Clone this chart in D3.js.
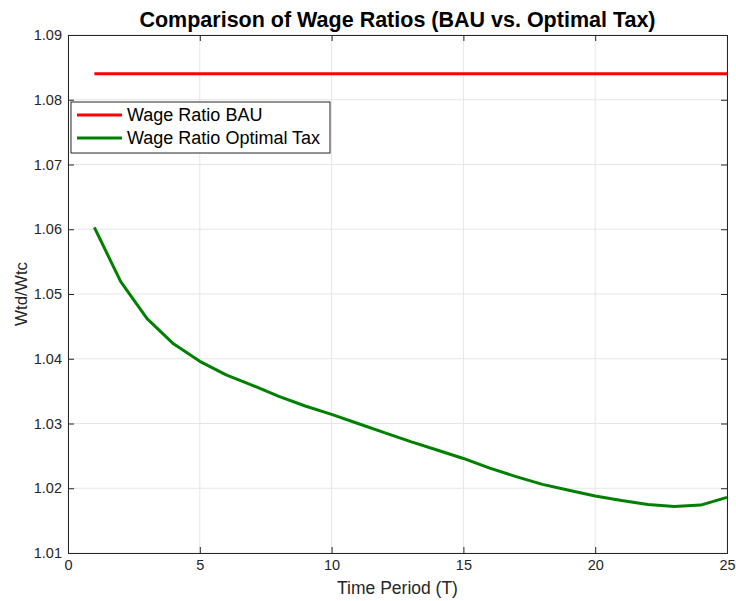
<!DOCTYPE html>
<html>
<head>
<meta charset="utf-8">
<script src="https://cdn.jsdelivr.net/npm/d3@7"></script>
<style>
  body { margin: 0; background: #fff; }
  svg { font-family: "Liberation Sans", Arial, Helvetica, sans-serif; }
</style>
</head>
<body>
<svg id="chart"></svg>
<script>
const svgWidth = 736;
const svgHeight = 601;
const margin = { top: 35, right: 9, bottom: 48, left: 68 };

// data
const periods = d3.range(1, 26);
const wageRatioBAU = [1.084, 1.084, 1.084, 1.084, 1.084, 1.084, 1.084, 1.084, 1.084, 1.084,
    1.084, 1.084, 1.084, 1.084, 1.084, 1.084, 1.084, 1.084, 1.084, 1.084,
    1.084, 1.084, 1.084, 1.084, 1.084];
const wageRatioTax = [1.0603, 1.0519, 1.0462, 1.0423, 1.0396, 1.0375, 1.0359, 1.0342, 1.0327, 1.0314,
    1.0300, 1.0286, 1.0272, 1.0259, 1.0246, 1.0231, 1.0218, 1.0206, 1.0197, 1.0188,
    1.0181, 1.0175, 1.0172, 1.0174, 1.0186];
const xTicks = [0, 5, 10, 15, 20, 25];
const yTicks = [1.01, 1.02, 1.03, 1.04, 1.05, 1.06, 1.07, 1.08, 1.09];
const seriesNames = ["Wage Ratio BAU", "Wage Ratio Optimal Tax"];
const seriesColors = ["#ff0000", "#008000"];

var svg = d3.select("#chart")
    .attr("width", svgWidth)
    .attr("height", svgHeight);

const plotW = svgWidth - margin.left - margin.right;
const plotH = svgHeight - margin.top - margin.bottom;

var x = d3.scaleLinear().domain([0, 25]).range([margin.left, margin.left + plotW]);
var y = d3.scaleLinear().domain([1.01, 1.09]).range([margin.top + plotH, margin.top]);

// grid
svg.append("g")
    .selectAll("line")
    .data(xTicks)
    .enter()
    .append("line")
    .attr("x1", d => x(d)).attr("x2", d => x(d))
    .attr("y1", margin.top).attr("y2", margin.top + plotH)
    .attr("stroke", "#e6e6e6").attr("stroke-width", 1);

svg.append("g")
    .selectAll("line")
    .data(yTicks)
    .enter()
    .append("line")
    .attr("x1", margin.left).attr("x2", margin.left + plotW)
    .attr("y1", d => y(d)).attr("y2", d => y(d))
    .attr("stroke", "#e6e6e6").attr("stroke-width", 1);

// axes (MATLAB box style, ticks inward on all sides)
const tickLen = 6;
var xAxis = svg.append("g")
    .attr("transform", `translate(0,${margin.top + plotH})`)
    .call(d3.axisBottom(x).tickValues(xTicks).tickSize(-tickLen).tickPadding(7).tickFormat(d3.format("d")));
var xAxisTop = svg.append("g")
    .attr("transform", `translate(0,${margin.top})`)
    .call(d3.axisTop(x).tickValues(xTicks).tickSize(-tickLen).tickFormat(""));
var yAxis = svg.append("g")
    .attr("transform", `translate(${margin.left},0)`)
    .call(d3.axisLeft(y).tickValues(yTicks).tickSize(-tickLen).tickPadding(6).tickFormat(d3.format(".2f")));
var yAxisRight = svg.append("g")
    .attr("transform", `translate(${margin.left + plotW},0)`)
    .call(d3.axisRight(y).tickValues(yTicks).tickSize(-tickLen).tickFormat(""));

[xAxis, xAxisTop, yAxis, yAxisRight].forEach(function(a) {
    a.select(".domain").attr("stroke", "#262626").attr("stroke-width", 1);
    a.selectAll(".tick line").attr("stroke", "#262626");
    a.selectAll(".tick text")
        .attr("fill", "#262626")
        .style("font-size", "14.5px")
        .style("font-family", "'Liberation Sans', Arial, sans-serif");
});

// lines
var line = d3.line()
    .x((d, i) => x(periods[i]))
    .y(d => y(d));

svg.append("path")
    .datum(wageRatioBAU)
    .attr("d", line)
    .attr("fill", "none")
    .attr("stroke", seriesColors[0])
    .attr("stroke-width", 3);

svg.append("path")
    .datum(wageRatioTax)
    .attr("d", line)
    .attr("fill", "none")
    .attr("stroke", seriesColors[1])
    .attr("stroke-width", 3)
    .attr("stroke-linejoin", "round");

// title and labels
svg.append("text")
    .attr("x", margin.left + plotW / 2)
    .attr("y", 27)
    .attr("text-anchor", "middle")
    .style("font-size", "21.5px")
    .style("font-weight", "bold")
    .attr("fill", "#000")
    .text("Comparison of Wage Ratios (BAU vs. Optimal Tax)");

svg.append("text")
    .attr("x", margin.left + plotW / 2)
    .attr("y", 594)
    .attr("text-anchor", "middle")
    .style("font-size", "17.5px")
    .attr("fill", "#262626")
    .text("Time Period (T)");

svg.append("text")
    .attr("transform", `translate(27,${margin.top + plotH / 2}) rotate(-90)`)
    .attr("text-anchor", "middle")
    .style("font-size", "17px")
    .attr("fill", "#262626")
    .text("Wtd/Wtc");

// legend
var legend = svg.append("g").attr("transform", "translate(71,102)");
legend.append("rect")
    .attr("width", 259).attr("height", 51)
    .attr("fill", "#fff").attr("stroke", "#262626").attr("stroke-width", 1);

legend.selectAll("line")
    .data(seriesNames)
    .enter()
    .append("line")
    .attr("x1", 6).attr("x2", 51)
    .attr("y1", (d, i) => 13 + i * 23).attr("y2", (d, i) => 13 + i * 23)
    .attr("stroke", (d, i) => seriesColors[i])
    .attr("stroke-width", 3);

legend.selectAll("text")
    .data(seriesNames)
    .enter()
    .append("text")
    .attr("x", 56)
    .attr("y", (d, i) => 13 + i * 23)
    .attr("dy", "0.35em")
    .style("font-size", "18px")
    .attr("fill", "#000")
    .text(d => d);
</script>
</body>
</html>
